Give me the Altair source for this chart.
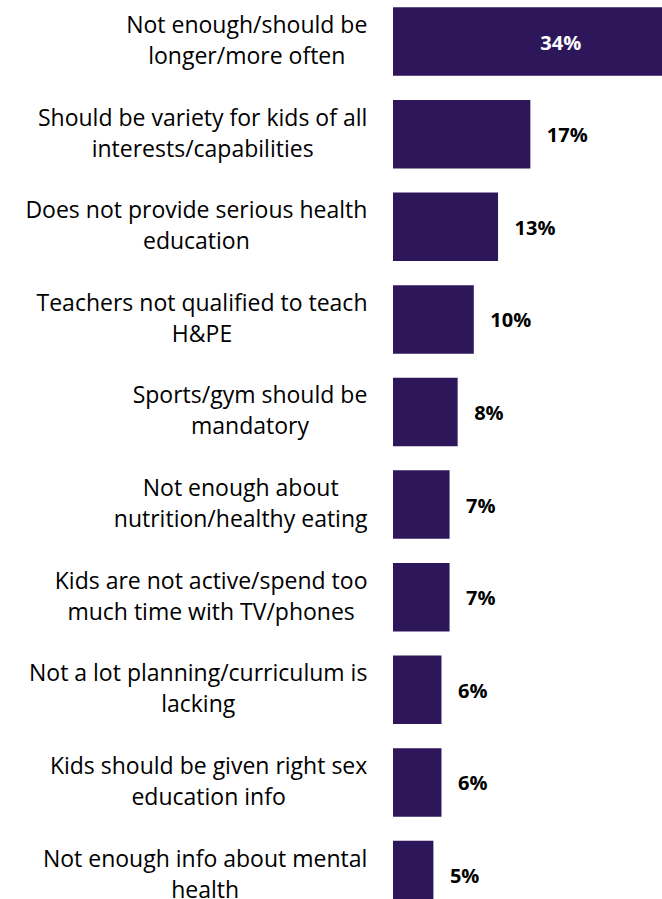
import altair as alt
import pandas as pd

# ---- data -------------------------------------------------------------
line1 = [
    "Not enough/should be",
    "Should be variety for kids of all",
    "Does not provide serious health",
    "Teachers not qualified to teach",
    "Sports/gym should be",
    "Not enough about",
    "Kids are not active/spend too",
    "Not a lot planning/curriculum is",
    "Kids should be given right sex",
    "Not enough info about mental",
]
line2 = [
    "longer/more often",
    "interests/capabilities",
    "education",
    "H&PE",
    "mandatory",
    "nutrition/healthy eating",
    "much time with TV/phones",
    "lacking",
    "education info",
    "health",
]
values = [34, 17, 13, 10, 8, 7, 7, 6, 6, 5]

# ---- styling / layout --------------------------------------------------
FONT = "Open Sans"
LABEL_SIZE = 23
VALUE_SIZE = 20
LINE_HEIGHT = 31
BAR_COLOR = "#2D175A"
PX_PER_PCT = 8.08
PLOT_LEFT = 393
PLOT_W = 269
PLOT_H = 899
XMAX = PLOT_W / PX_PER_PCT
GAP = 25.5  # space between label block and bars (px)

# approximate Open Sans advance widths (units per em = 2048)
OS_W = {
    " ": 532, "/": 752, "&": 1479, "%": 1686,
    "D": 1493, "T": 1139, "H": 1511, "P": 1233, "E": 1139, "K": 1257,
    "N": 1544, "S": 1124, "V": 1200,
    "a": 1139, "b": 1255, "c": 975, "d": 1255, "e": 1149, "f": 694,
    "g": 1122, "h": 1257, "i": 518, "j": 518, "k": 1075, "l": 518,
    "m": 1905, "n": 1257, "o": 1237, "p": 1255, "q": 1255, "r": 836,
    "s": 977, "t": 723, "u": 1257, "v": 1026, "w": 1593, "x": 1073,
    "y": 1028, "z": 977,
}


def text_width(s, size=LABEL_SIZE):
    return sum(OS_W.get(ch, 1150) for ch in s) / 2048.0 * size


cats = [a + "\n" + b for a, b in zip(line1, line2)]
half_w = [max(text_width(a), text_width(b)) / 2.0 for a, b in zip(line1, line2)]

df = pd.DataFrame({
    "cat": cats,
    "value": values,
    "pct": [f"{v}%" for v in values],
    "label_x": [-(GAP + hw) / PX_PER_PCT for hw in half_w],
    "inside": [v == max(values) for v in values],
})

xs = alt.Scale(domain=[0, XMAX], nice=False, zero=True)
y_enc = alt.Y(
    "cat:N",
    sort=cats,
    axis=None,
    scale=alt.Scale(range=[0, 916.6], paddingInner=0.26, paddingOuter=0.079),
)

base = alt.Chart(df)

bars = base.mark_bar(color=BAR_COLOR, clip=True).encode(
    x=alt.X("value:Q", scale=xs, axis=None),
    y=y_enc,
)

cat_labels = base.mark_text(
    font=FONT, fontSize=LABEL_SIZE, align="center", baseline="middle",
    lineBreak="\n", lineHeight=LINE_HEIGHT, color="#000000",
    dy=-LINE_HEIGHT / 2,
).encode(
    x=alt.X("label_x:Q", scale=xs, axis=None),
    y=y_enc,
    text="cat:N",
)

val_out = base.transform_filter(alt.datum.inside == False).mark_text(
    font=FONT, fontSize=VALUE_SIZE, fontWeight="bold", align="left",
    baseline="middle", dx=16.5, dy=2, color="#000000",
).encode(
    x=alt.X("value:Q", scale=xs, axis=None),
    y=y_enc,
    text="pct:N",
)

val_in = base.transform_filter(alt.datum.inside == True).mark_text(
    font=FONT, fontSize=VALUE_SIZE, fontWeight="bold", align="center",
    baseline="middle", dx=-107, dy=2, color="#FFFFFF",
).encode(
    x=alt.X("value:Q", scale=xs, axis=None),
    y=y_enc,
    text="pct:N",
)

chart = alt.layer(bars, cat_labels, val_out, val_in).properties(
    width=PLOT_W,
    height=PLOT_H,
    padding={"left": PLOT_LEFT, "top": 0, "right": 0, "bottom": 0},
    autosize=alt.AutoSizeParams(type="none"),
).configure_view(stroke=None)

chart.save("out.html", embed_options={"renderer": "svg", "actions": False})
